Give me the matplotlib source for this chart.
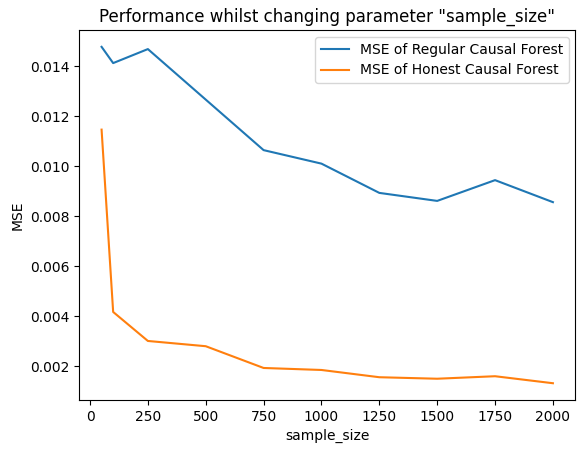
import matplotlib
matplotlib.use("Agg")
import matplotlib.pyplot as plt

sample_sizes = [50, 100, 250, 500, 750, 1000, 1250, 1500, 1750, 2000]
mse_regular = [0.01477, 0.01412, 0.01468, 0.01266, 0.01064, 0.01010, 0.00893, 0.00861, 0.00944, 0.00856]
mse_honest = [0.01146, 0.00417, 0.00301, 0.00280, 0.00193, 0.00185, 0.00156, 0.00150, 0.00160, 0.00132]

fig = plt.figure(figsize=(5.81, 4.5), dpi=100)
plt.plot(sample_sizes, mse_regular, label="MSE of Regular Causal Forest")
plt.plot(sample_sizes, mse_honest, label="MSE of Honest Causal Forest")
plt.title('Performance whilst changing parameter "sample_size"')
plt.xlabel("sample_size")
plt.ylabel("MSE")
plt.legend()
plt.subplots_adjust(left=0.136, right=0.9905, top=0.9333, bottom=0.111)
plt.savefig("out.png", dpi=100)
